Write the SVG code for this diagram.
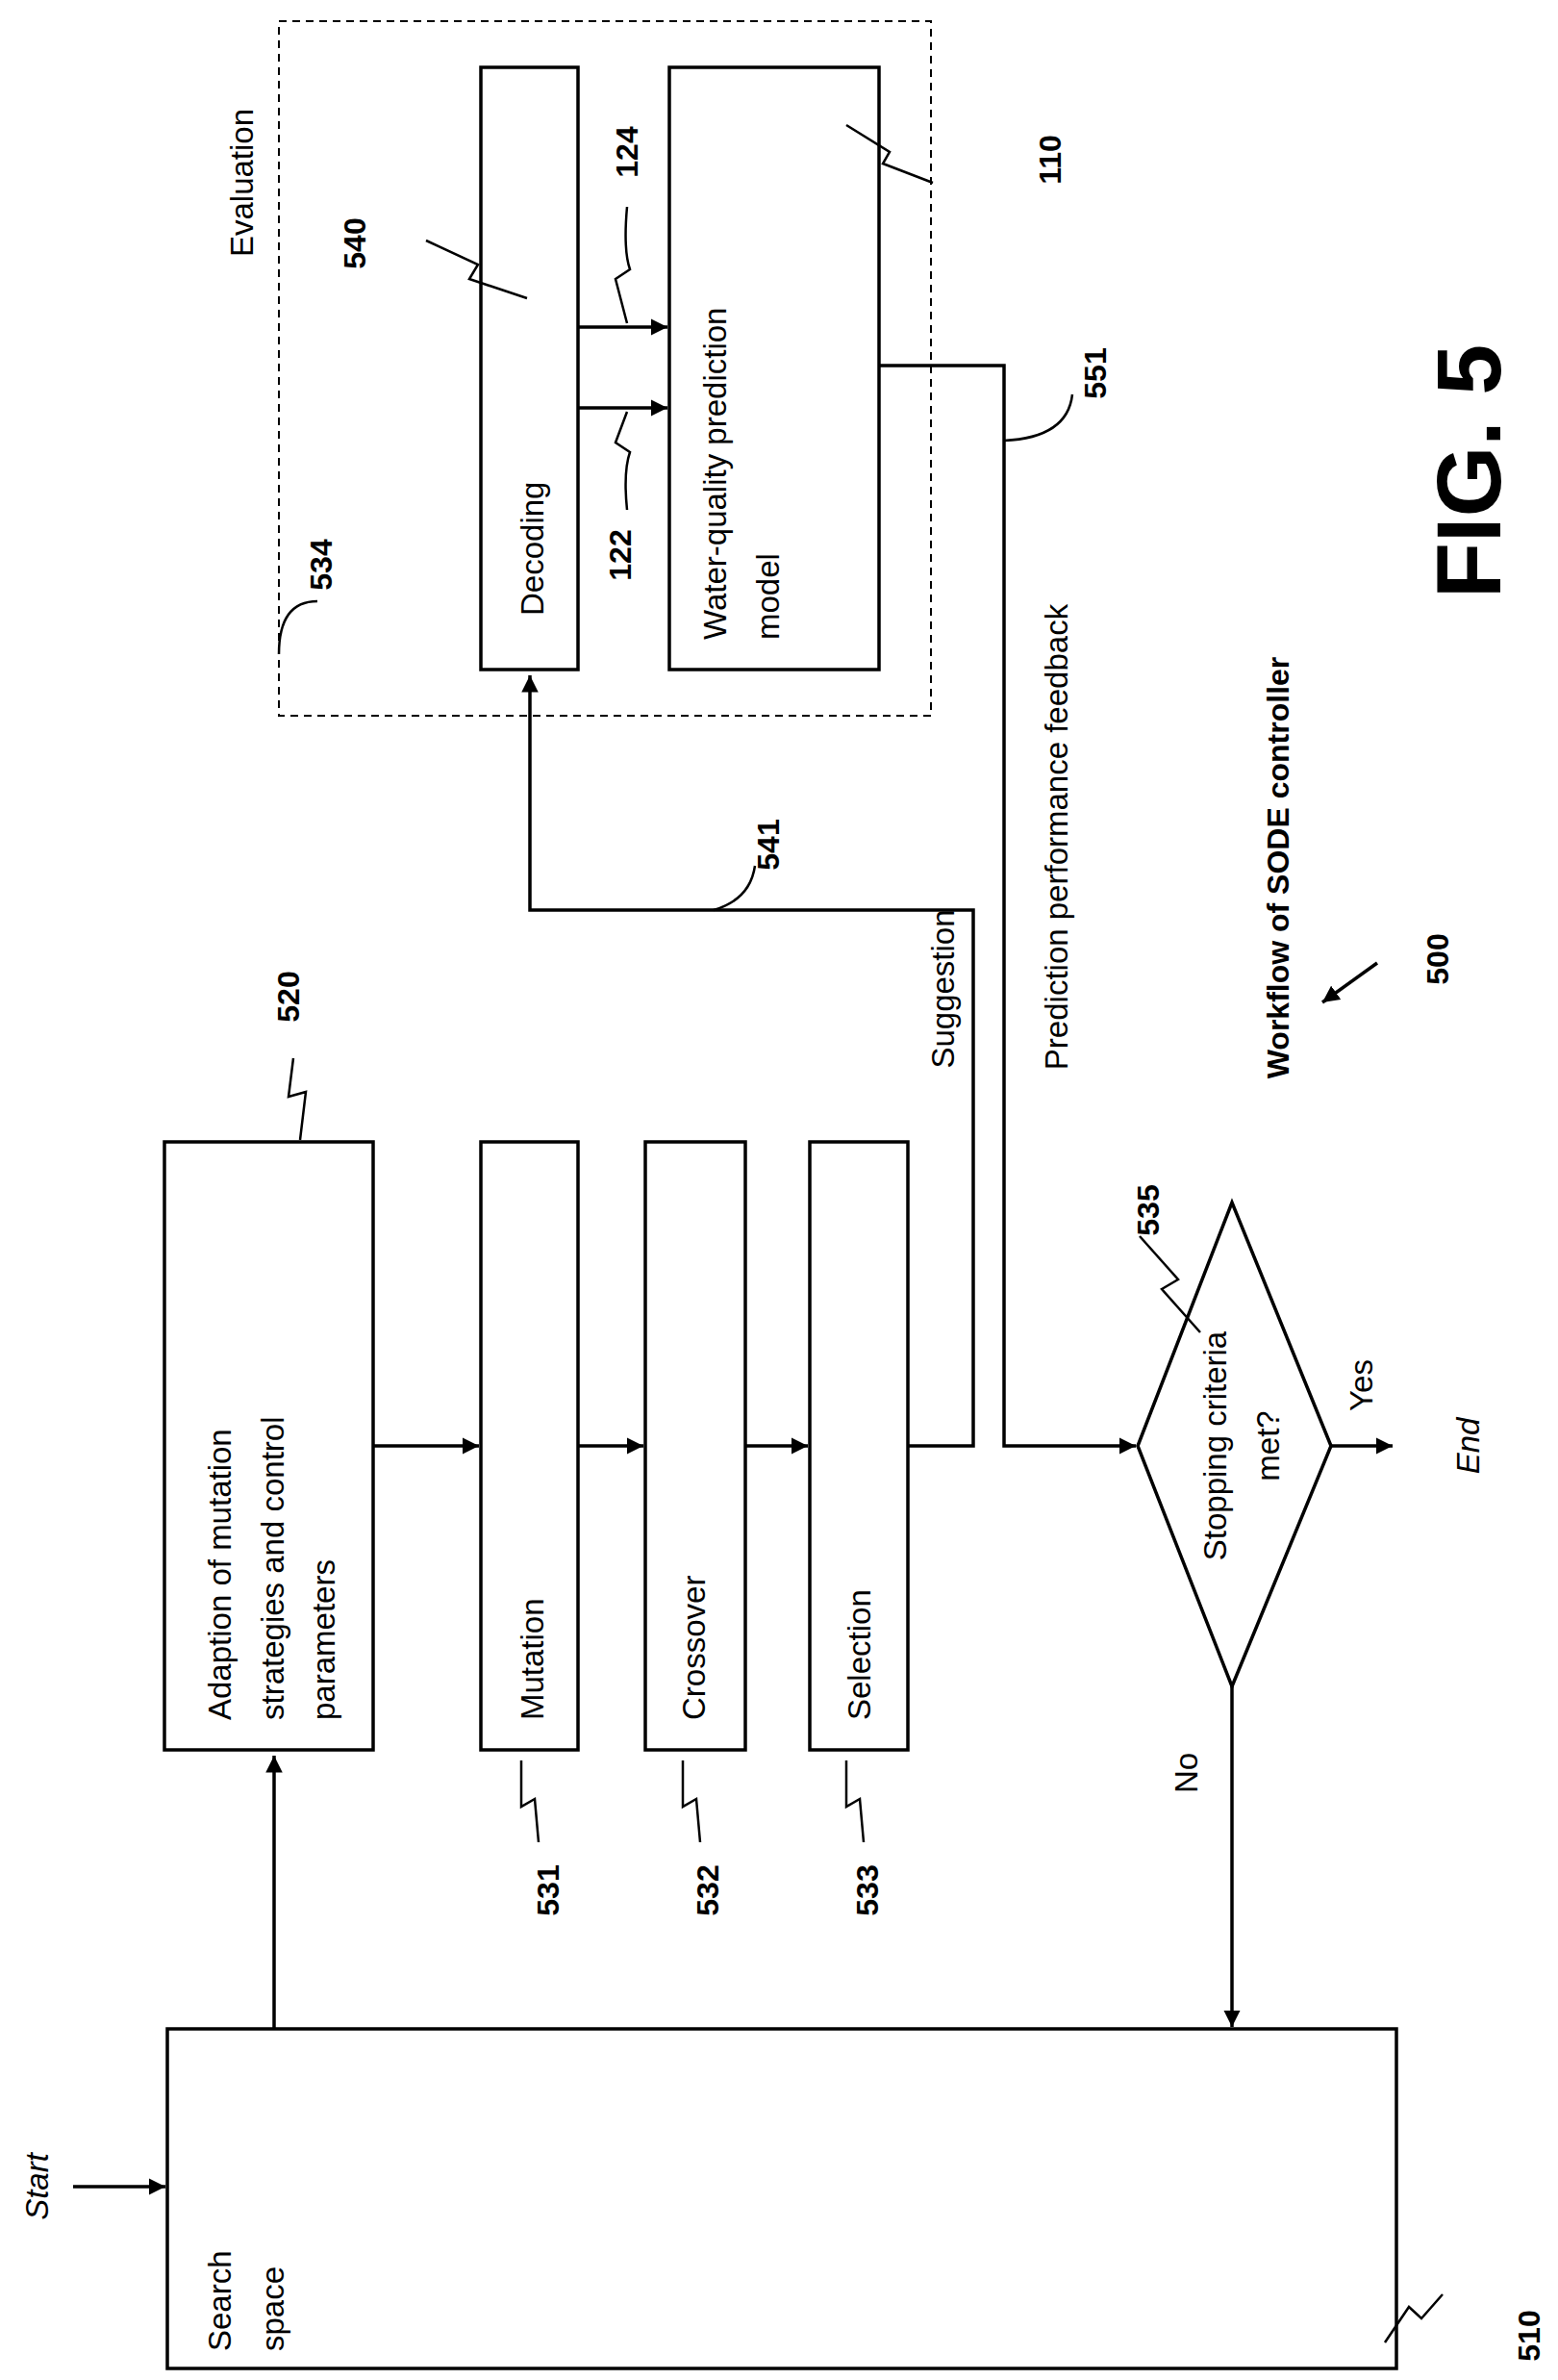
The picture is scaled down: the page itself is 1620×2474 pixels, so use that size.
<svg xmlns="http://www.w3.org/2000/svg" width="1620" height="2474" viewBox="0 0 1620 2474">
<style>
.b{fill:#fff;stroke:#000;stroke-width:3.5}
.l{fill:none;stroke:#000;stroke-width:3.5}
.t{font-family:"Liberation Sans",Arial,sans-serif;font-size:33px;fill:#000}
.n{font-family:"Liberation Sans",Arial,sans-serif;font-size:32px;font-weight:bold;fill:#000}
</style>
<defs>
<marker id="a" viewBox="0 0 10 10" refX="10" refY="5" markerWidth="5" markerHeight="5" orient="auto"><path d="M0,0L10,5L0,10z"/></marker>
</defs>
<rect width="1620" height="2474" fill="#fff"/>
<g id="evaluation"><rect x="290" y="22" width="678" height="722" fill="none" stroke="#000" stroke-width="2" stroke-dasharray="8,6"/>
<text class="t" transform="translate(263,190) rotate(-90)" text-anchor="middle">Evaluation</text></g>
<g id="decoding"><rect class="b" x="500" y="70" width="101" height="626"/>
<text class="t" transform="translate(565,640) rotate(-90)">Decoding</text></g>
<g id="wq"><rect class="b" x="696" y="70" width="218" height="626"/>
<text class="t" transform="translate(755,665) rotate(-90)">Water-quality prediction</text>
<text class="t" transform="translate(810,665) rotate(-90)">model</text></g>
<g id="search"><rect class="b" x="174" y="2109" width="1278" height="353"/>
<text class="t" transform="translate(240,2444) rotate(-90)">Search</text>
<text class="t" transform="translate(295,2444) rotate(-90)">space</text></g>
<g id="adaption"><rect class="b" x="171" y="1187" width="217" height="632"/>
<text class="t" transform="translate(240,1788) rotate(-90)">Adaption of mutation</text>
<text class="t" transform="translate(295,1788) rotate(-90)">strategies and control</text>
<text class="t" transform="translate(348,1788) rotate(-90)">parameters</text></g>
<g id="mutation"><rect class="b" x="500" y="1187" width="101" height="632"/>
<text class="t" transform="translate(565,1788) rotate(-90)">Mutation</text></g>
<g id="crossover"><rect class="b" x="671" y="1187" width="104" height="632"/>
<text class="t" transform="translate(733,1788) rotate(-90)">Crossover</text></g>
<g id="selection"><rect class="b" x="842" y="1187" width="102" height="632"/>
<text class="t" transform="translate(905,1788) rotate(-90)">Selection</text></g>
<g id="stop"><path class="b" d="M1281,1250L1384,1503L1281,1753L1183,1503z"/>
<text class="t" transform="translate(1275,1503) rotate(-90)" text-anchor="middle">Stopping criteria</text>
<text class="t" transform="translate(1330,1503) rotate(-90)" text-anchor="middle">met?</text></g>
<g id="connectors">
<path class="l" d="M285,2109V1825" stroke-width="5" marker-end="url(#a)"/>
<path class="l" d="M388,1503H498" marker-end="url(#a)"/>
<path class="l" d="M601,1503H669" marker-end="url(#a)"/>
<path class="l" d="M775,1503H840" marker-end="url(#a)"/>
<path class="l" d="M944,1503H1012V946H551V702" stroke-width="5" marker-end="url(#a)"/>
<path class="l" d="M601,424H694" stroke-width="4" marker-end="url(#a)"/>
<path class="l" d="M601,340H694" stroke-width="4" marker-end="url(#a)"/>
<path class="l" d="M914,380H1044V1503H1181" stroke-width="4" marker-end="url(#a)"/>
<path class="l" d="M1384,1503H1448" marker-end="url(#a)"/>
<path class="l" d="M1281,1753V2107" stroke-width="5" marker-end="url(#a)"/>
<path class="l" d="M76,2273H172" marker-end="url(#a)"/>
<path class="l" d="M1432,1001L1375,1042" marker-end="url(#a)"/>
</g>
<g id="leaders" fill="none" stroke="#000" stroke-width="2.5">
<path d="M443,250L497,275L488,290L548,310"/>
<path d="M880,130L925,158L918,170L970,190"/>
<path d="M652,215Q648,260 655,280L640,290L652,336"/>
<path d="M652,530Q648,490 655,470L640,460L652,428"/>
<path d="M305,1100L300,1140L318,1135L312,1185"/>
<path d="M560,1915L556,1870L542,1878L542,1830"/>
<path d="M728,1915L724,1870L710,1878L710,1830"/>
<path d="M898,1915L894,1870L880,1878L880,1830"/>
<path d="M1185,1285L1225,1330L1208,1340L1248,1385"/>
<path d="M1500,2385L1478,2410L1465,2398L1440,2435"/>
<path d="M330,625Q290,625 290,680"/>
<path d="M785,900Q780,935 742,946"/>
<path d="M1115,410Q1110,455 1044,458"/>
</g>
<g id="labels">
<text class="n" transform="translate(380,253) rotate(-90)" text-anchor="middle">540</text>
<text class="n" transform="translate(345,587) rotate(-90)" text-anchor="middle">534</text>
<text class="n" transform="translate(656,577) rotate(-90)" text-anchor="middle">122</text>
<text class="n" transform="translate(663,158) rotate(-90)" text-anchor="middle">124</text>
<text class="n" transform="translate(1103,166) rotate(-90)" text-anchor="middle">110</text>
<text class="n" transform="translate(1150,388) rotate(-90)" text-anchor="middle">551</text>
<text class="n" transform="translate(810,878) rotate(-90)" text-anchor="middle">541</text>
<text class="n" transform="translate(311,1036) rotate(-90)" text-anchor="middle">520</text>
<text class="n" transform="translate(581,1965) rotate(-90)" text-anchor="middle">531</text>
<text class="n" transform="translate(747,1965) rotate(-90)" text-anchor="middle">532</text>
<text class="n" transform="translate(913,1965) rotate(-90)" text-anchor="middle">533</text>
<text class="n" transform="translate(1205,1258) rotate(-90)" text-anchor="middle">535</text>
<text class="n" transform="translate(1506,997) rotate(-90)" text-anchor="middle">500</text>
<text class="n" transform="translate(1601,2428) rotate(-90)" text-anchor="middle">510</text>
<text class="t" transform="translate(1110,870) rotate(-90)" text-anchor="middle">Prediction performance feedback</text>
<text class="t" transform="translate(992,1028) rotate(-90)" text-anchor="middle">Suggestion</text>
<text class="n" transform="translate(1340,902) rotate(-90)" text-anchor="middle">Workflow of SODE controller</text>
<text class="n" style="font-size:95px" transform="translate(1560,490) rotate(-90)" text-anchor="middle">FIG. 5</text>
<text class="t" transform="translate(1427,1440) rotate(-90)" text-anchor="middle">Yes</text>
<text class="t" style="font-style:italic" transform="translate(1538,1503) rotate(-90)" text-anchor="middle">End</text>
<text class="t" transform="translate(1245,1843) rotate(-90)" text-anchor="middle">No</text>
<text class="t" style="font-style:italic" transform="translate(50,2273) rotate(-90)" text-anchor="middle">Start</text>
</g>
</svg>
